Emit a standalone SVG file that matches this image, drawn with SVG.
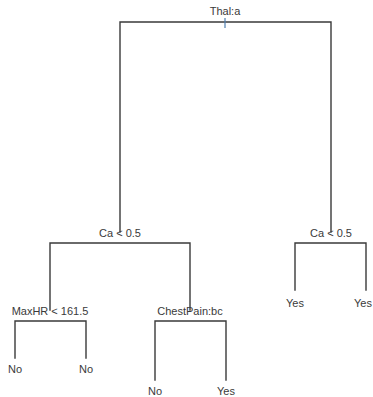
<svg xmlns="http://www.w3.org/2000/svg" width="373" height="397" viewBox="0 0 373 397">
<style>
.e{fill:none;stroke:#3a3a3a;stroke-width:1.4;stroke-linecap:square}
.t{font-family:"Liberation Sans",Arial,sans-serif;font-size:11px;fill:#3a3a3a;text-anchor:middle}
</style>
<rect width="373" height="397" fill="#fff"/>
<g id="connectors">
<path class="e" d="M120,232 V22 H331 V232"/>
<path class="e" d="M50,310 V243 H190 V310"/>
<path class="e" d="M295,290 V243 H366 V290"/>
<path class="e" d="M15,358 V321 H86 V358"/>
<path class="e" d="M155,380 V321 H226 V380"/>
<path d="M225,18 V28" stroke="#4f7fb0" stroke-width="1.2"/>
</g>
<g id="n-thal"><text class="t" x="225" y="15">Thal:a</text></g>
<g id="n-ca1"><text class="t" x="120" y="237">Ca &lt; 0.5</text></g>
<g id="n-ca2"><text class="t" x="331" y="237">Ca &lt; 0.5</text></g>
<g id="n-maxhr"><text class="t" x="50" y="315">MaxHR &lt; 161.5</text></g>
<g id="n-chest"><text class="t" x="190" y="315">ChestPain:bc</text></g>
<g id="l1"><text class="t" x="15" y="373">No</text></g>
<g id="l2"><text class="t" x="86" y="373">No</text></g>
<g id="l3"><text class="t" x="155" y="395">No</text></g>
<g id="l4"><text class="t" x="226" y="395">Yes</text></g>
<g id="l5"><text class="t" x="295" y="307">Yes</text></g>
<g id="l6"><text class="t" x="363" y="307">Yes</text></g>
</svg>
